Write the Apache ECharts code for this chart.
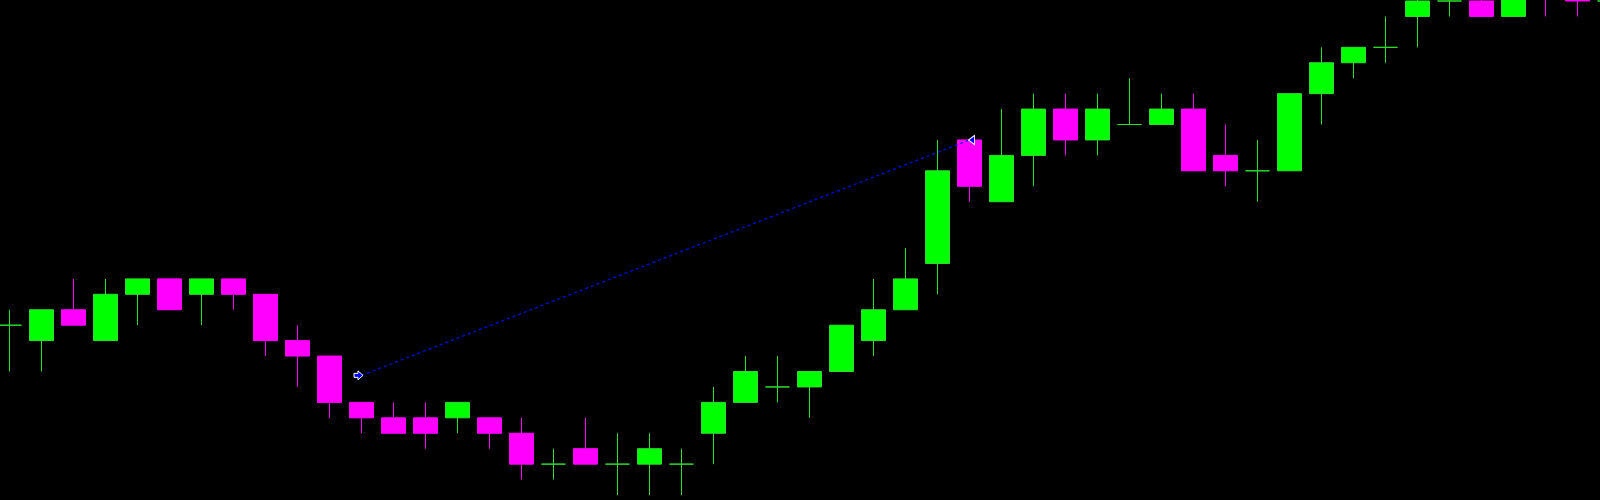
<!DOCTYPE html>
<html>
<head>
<meta charset="utf-8">
<script src="https://cdn.jsdelivr.net/npm/echarts@6/dist/echarts.min.js"></script>
<style>
html,body{margin:0;padding:0;background:#000;}
#chart{width:1600px;height:500px;}
</style>
</head>
<body>
<div id="chart"></div>
<script>
// Price levels (chart units), one entry per bar
const categories = ['0','1','2','3','4','5','6','7','8','9','10','11','12','13','14','15','16','17','18','19','20','21','22','23','24','25','26','27','28','29','30','31','32','33','34','35','36','37','38','39','40','41','42','43','44','45','46','47','48','49','50'];
const opens  = [11,10,12,10,13,14,13,14,13,10, 9, 6, 5, 5, 5, 5, 4, 2, 3, 2, 2, 2, 4, 6, 7, 7, 8,10,12,15,23,19,22,25,23,24,24,25,22,21,21,26,28,29,31,32,32,31,34,33,32];
const closes = [11,12,11,13,14,12,14,13,10, 9, 6, 5, 4, 4, 6, 4, 2, 2, 2, 2, 3, 2, 6, 8, 7, 8,11,12,14,21,20,22,25,23,25,24,25,21,21,21,26,28,29,29,32,32,31,33,33,32,32];
const lows   = [ 8, 8,11,10,11,12,11,12, 9, 7, 5, 4, 4, 3, 4, 3, 1, 1, 2, 0, 0, 0, 2, 6, 6, 5, 8, 9,12,13,19,19,20,22,22,24,24,21,20,19,21,24,27,28,29,31,31,31,31,31,31];
const highs  = [12,12,14,14,14,14,14,14,13,11, 9, 6, 6, 6, 6, 5, 5, 3, 5, 4, 4, 3, 7, 9, 9, 8,11,14,16,23,23,25,26,26,26,27,26,26,24,23,26,29,29,31,33,33,33,34,34,33,33];
// Trend line end points: [bar index, price level]
const trendStart = [11, 7.75];
const trendEnd = [30, 23];

const candleData = opens.map((o, i) => [o, closes[i], lows[i], highs[i]]);

const chart = echarts.init(document.getElementById('chart'), null, {renderer: 'canvas'});
chart.setOption({
  backgroundColor: '#000000',
  animation: false,
  grid: {left: -6.5, top: 1, width: 1632, height: 494, containLabel: false, outerBoundsMode: 'none'},
  xAxis: {type: 'category', data: categories, show: false, boundaryGap: true},
  yAxis: {type: 'value', min: 0, max: 32, show: false, splitLine: {show: false}},
  series: [
    {
      type: 'candlestick',
      data: candleData,
      barWidth: 24,
      clip: true,
      itemStyle: {
        color: '#00ff00',
        color0: '#ff00ff',
        borderColor: '#2ee02e',
        borderColor0: '#ff00ff',
        borderColorDoji: '#2ee02e',
        borderWidth: 1
      },
      z: 2
    },
    {
      type: 'line',
      data: [
        {value: trendStart, symbol: 'path://M0,2.5 L4,2.5 L4,0 L9,4.5 L4,9 L4,6.5 L0,6.5 Z', symbolSize: [9, 9], symbolOffset: [-3, 0]},
        {value: trendEnd, symbol: 'path://M0,4.5 L6,0 L6,9 Z', symbolSize: [6, 9], symbolOffset: [2, 0]}
      ],
      showSymbol: true,
      lineStyle: {color: '#0000ff', width: 1.2, type: [3, 3]},
      itemStyle: {color: '#0000ff', borderColor: '#ffffff', borderWidth: 1},
      z: 5,
      silent: true
    }
  ]
});
</script>
</body>
</html>
